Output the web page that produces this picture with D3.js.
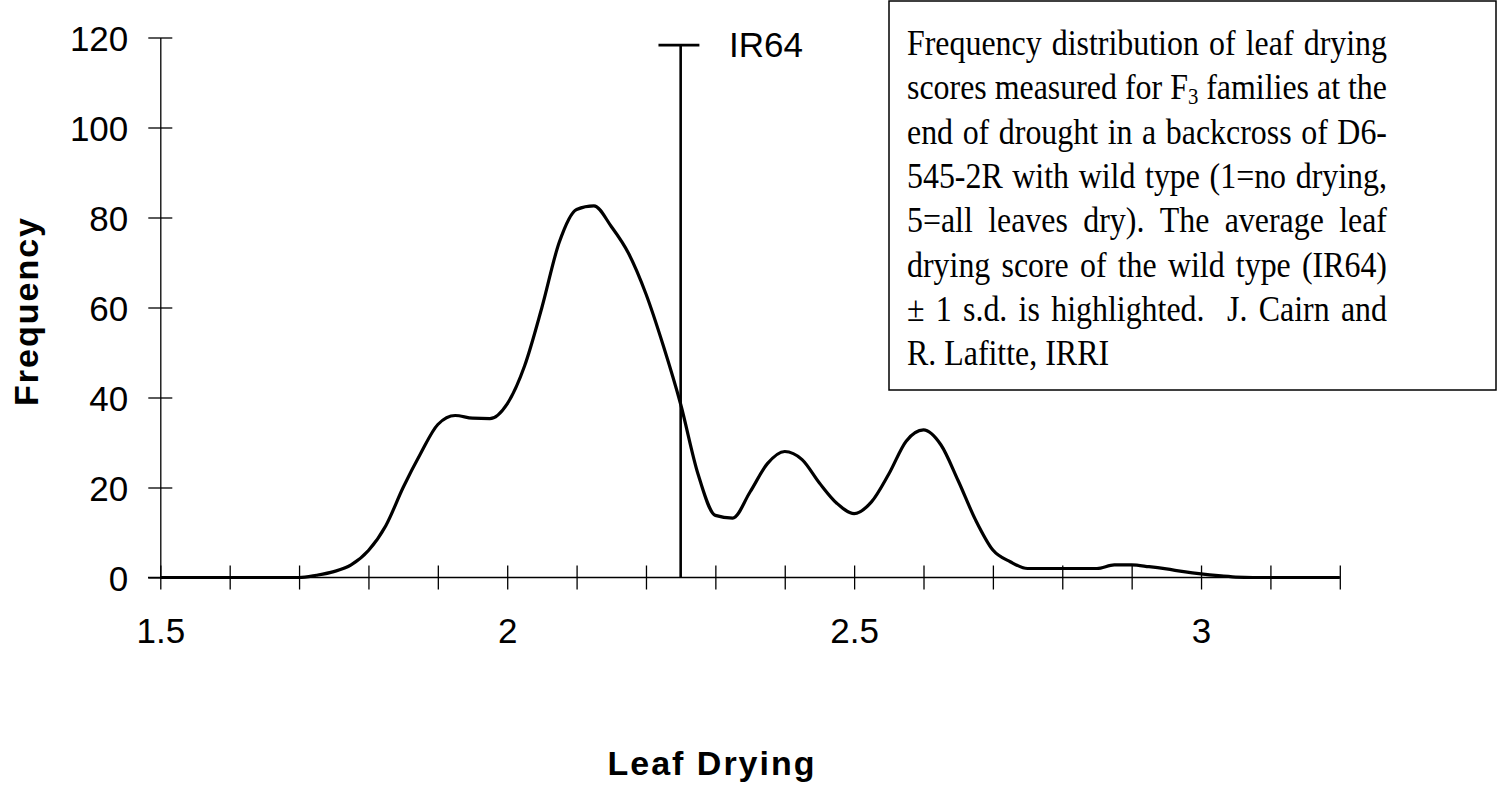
<!DOCTYPE html>
<html>
<head>
<meta charset="utf-8">
<script src="https://cdn.jsdelivr.net/npm/d3@7"></script>
<style>
  html, body { margin: 0; padding: 0; background: #fff; }
  svg { display: block; }
</style>
</head>
<body>
<div id="chart"></div>
<script>
// leaf drying score bins (step 0.025) and the smoothed frequency
const scores = d3.range(0, 69).map((i) => +(1.5 + i * 0.025).toFixed(3));
const frequency = [
  0, 0, 0, 0, 0, 0, 0, 0, 0, // 1.500 - 1.700
  0.5, 1.3, 2.8, 6, 11.5, 20, 27.5, 34, 36, 35.4, 35.3, // 1.725 - 1.975
  38.6, 47, 60, 74.5, 81.8, 82.6, 78, 72, 63, 51.5, // 2.000 - 2.225
  38.5, 23, 13.8, 13.2, 19, 25.3, 28, 26.2, 21, 16.5, // 2.250 - 2.475
  14.2, 16.8, 23, 30.3, 32.8, 29.5, 21.5, 12.8, 6.1, 3.5, // 2.500 - 2.725
  2, 2, 2, 2, 2, 2.8, 2.8, 2.4, 1.9, 1.3, // 2.750 - 2.975
  0.8, 0.4, 0.1, 0, 0, 0, 0, 0, 0, // 3.000 - 3.200
];

// wild type marker
const ir64Score = 2.25;
const ir64Top = 118.3;
const ir64Label = "IR64";

// axes
const xTicks = d3.range(15, 33).map((d) => d / 10);
const xLabels = [1.5, 2, 2.5, 3];
const yTicks = [0, 20, 40, 60, 80, 100, 120];
const xTitle = "Leaf Drying";
const yTitle = "Frequency";

// caption box, one entry per printed line
const captionLines = [
  ["Frequency", "distribution", "of", "leaf", "drying"],
  ["scores", "measured", "for", "F_3", "families", "at", "the"],
  ["end", "of", "drought", "in", "a", "backcross", "of", "D6-"],
  ["545-2R", "with", "wild", "type", "(1=no", "drying,"],
  ["5=all", "leaves", "dry).", "The", "average", "leaf"],
  ["drying", "score", "of", "the", "wild", "type", "(IR64)"],
  ["\u00b1", "1", "s.d.", "is", "highlighted.", "", "J.", "Cairn", "and"],
  ["R.", "Lafitte,", "IRRI"],
];

const width = 1497;
const height = 785;
const sans = "'Liberation Sans', Arial, sans-serif";
const serif = "'Liberation Serif', 'Times New Roman', serif";

const x = d3.scaleLinear().domain([1.5, 3.2]).range([160.3, 1339.8]);
const y = d3.scaleLinear().domain([0, 120]).range([577.5, 37.5]);

const svg = d3
  .select("#chart")
  .append("svg")
  .attr("width", width)
  .attr("height", height)
  .attr("viewBox", `0 0 ${width} ${height}`);

// x axis: ticks cross the line, labels only at half units
const xAxis = svg
  .append("g")
  .attr("transform", `translate(0,${y(0)})`)
  .call(
    d3
      .axisBottom(x)
      .tickValues(xTicks)
      .tickSizeOuter(0)
      .tickFormat((d) => (xLabels.some((v) => Math.abs(v - d) < 1e-9) ? d3.format("")(d) : "")),
  );
xAxis.select(".domain").remove();
xAxis.selectAll(".tick line").attr("y1", -12).attr("y2", 12).attr("stroke", "#000").attr("stroke-width", 1.3);
xAxis
  .selectAll(".tick text")
  .attr("y", 65)
  .attr("dy", 0)
  .attr("fill", "#000")
  .style("font-family", sans)
  .style("font-size", "35px");
xAxis
  .append("line")
  .attr("x1", 148)
  .attr("x2", x(3.2))
  .attr("stroke", "#000")
  .attr("stroke-width", 1.3);

// y axis
const yAxis = svg
  .append("g")
  .attr("transform", `translate(${x(1.5)},0)`)
  .call(d3.axisLeft(y).tickValues(yTicks).tickSizeOuter(0));
yAxis.select(".domain").attr("stroke", "#000").attr("stroke-width", 1.3);
yAxis.selectAll(".tick line").attr("x1", -12).attr("x2", 12).attr("stroke", "#000").attr("stroke-width", 1.3);
yAxis
  .selectAll(".tick text")
  .attr("x", -32)
  .attr("dy", "0.36em")
  .attr("fill", "#000")
  .style("font-family", sans)
  .style("font-size", "35px");

// axis titles
svg
  .append("text")
  .attr("x", 712)
  .attr("y", 775)
  .attr("text-anchor", "middle")
  .style("font-family", sans)
  .style("font-size", "34px")
  .style("font-weight", "bold")
  .style("letter-spacing", "2px")
  .text(xTitle);

svg
  .append("text")
  .attr("transform", "translate(38,311) rotate(-90)")
  .attr("text-anchor", "middle")
  .style("font-family", sans)
  .style("font-size", "34px")
  .style("font-weight", "bold")
  .style("letter-spacing", "2px")
  .text(yTitle);

// frequency curve
const line = d3
  .line()
  .x((d, i) => x(scores[i]))
  .y((d) => y(d))
  .curve(d3.curveMonotoneX);

svg
  .append("path")
  .datum(frequency)
  .attr("d", line)
  .attr("fill", "none")
  .attr("stroke", "#000")
  .attr("stroke-width", 3.2)
  .attr("stroke-linejoin", "round");

// IR64 marker
svg
  .append("line")
  .attr("x1", x(ir64Score))
  .attr("x2", x(ir64Score))
  .attr("y1", y(ir64Top))
  .attr("y2", y(0))
  .attr("stroke", "#000")
  .attr("stroke-width", 2.6);
svg
  .append("line")
  .attr("x1", x(ir64Score - 0.032))
  .attr("x2", x(ir64Score + 0.027))
  .attr("y1", y(ir64Top))
  .attr("y2", y(ir64Top))
  .attr("stroke", "#000")
  .attr("stroke-width", 2.6);
svg
  .append("text")
  .attr("x", 729)
  .attr("y", 57)
  .style("font-family", sans)
  .style("font-size", "35px")
  .text(ir64Label);

// caption box
const box = { left: 889, top: 1, right: 1496, bottom: 390 };
svg
  .append("rect")
  .attr("x", box.left)
  .attr("y", box.top)
  .attr("width", box.right - box.left)
  .attr("height", box.bottom - box.top)
  .attr("fill", "#fff")
  .attr("stroke", "#000")
  .attr("stroke-width", 1.5);

// justified text: fit the font so the tightest line still gets a normal space
const textLeft = 907;
const textRight = 1387;
const lineGap = 44.3;
const firstBaseline = 55;
const baseSize = 35;
const cap = svg.append("g").style("font-family", serif).style("font-size", baseSize + "px").attr("fill", "#000");

const rows = captionLines.map((words, li) => {
  const yy = firstBaseline + li * lineGap;
  const nodes = words.map((w) => {
    const t = cap.append("text").attr("transform", `translate(0,${yy}) scale(1,1.1)`);
    if (w.includes("_")) {
      const [base, sub] = w.split("_");
      t.append("tspan").text(base);
      t.append("tspan").attr("dy", "0.22em").style("font-size", "0.65em").text(sub);
    } else {
      t.text(w);
    }
    return t;
  });
  return { nodes, widths: nodes.map((n) => n.node().getComputedTextLength()) };
});

const fit = d3.min(rows.slice(0, -1), (r) => {
  const total = d3.sum(r.widths);
  const gaps = r.widths.length - 1;
  return (textRight - textLeft) / (total + gaps * 0.25 * baseSize);
});
const k = Math.min(1, fit);
cap.style("font-size", baseSize * k + "px");

rows.forEach((r, li) => {
  const widths = r.widths.map((w) => w * k);
  const total = d3.sum(widths);
  const gaps = widths.length - 1;
  const last = li === rows.length - 1;
  const gap = last ? 0.25 * baseSize * k : (textRight - textLeft - total) / gaps;
  let cx = textLeft;
  r.nodes.forEach((n, i) => {
    n.attr("x", cx);
    cx += widths[i] + gap;
  });
});
</script>
</body>
</html>
